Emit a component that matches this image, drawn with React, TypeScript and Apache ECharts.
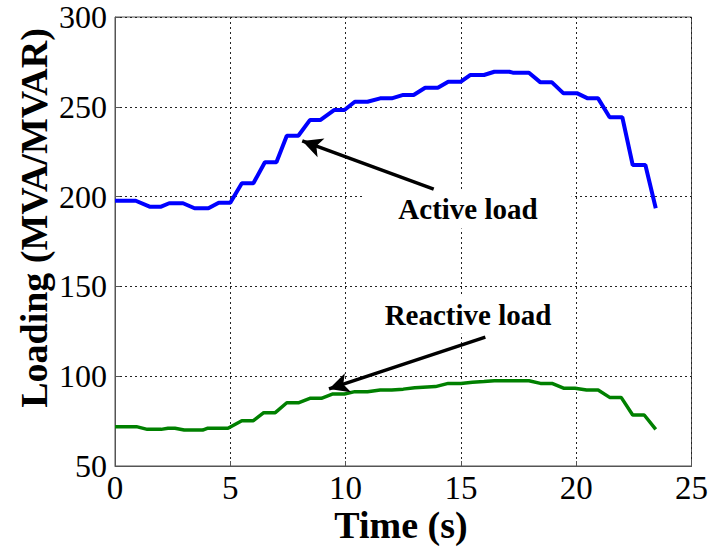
import React, { useEffect, useRef } from "react";
import * as echarts from "echarts";

const activeT = [0, 0.9, 1.5, 2.0, 2.35, 2.95, 3.45, 4.05, 4.5, 5.0, 5.5, 6.0, 6.5, 7.0, 7.45, 7.95, 8.45, 8.9, 9.5, 9.95, 10.4, 10.95, 11.5, 12.0, 12.5, 12.95, 13.45, 14.0, 14.45, 15.0, 15.4, 16.0, 16.45, 17.1, 17.25, 17.95, 18.45, 18.95, 19.45, 20.05, 20.5, 20.95, 21.45, 22.0, 22.45, 23.0, 23.45];
const activeV = [197.7, 197.7, 194.4, 194.4, 196.3, 196.3, 193.5, 193.5, 196.6, 196.6, 207.4, 207.4, 219.1, 219.1, 233.9, 233.9, 242.6, 242.6, 248.2, 248.2, 252.8, 252.8, 254.7, 254.7, 256.6, 256.6, 260.6, 260.6, 264.0, 264.0, 267.7, 267.7, 269.5, 269.5, 269.0, 269.0, 263.6, 263.6, 257.5, 257.5, 254.7, 254.7, 244.2, 244.2, 217.6, 217.6, 193.5];

const reactiveT = [0, 0.93, 1.4, 2.0, 2.3, 2.6, 3.0, 3.8, 4.0, 4.9, 5.5, 6.0, 6.45, 6.95, 7.45, 7.95, 8.45, 8.95, 9.45, 9.95, 10.4, 10.95, 11.5, 12.0, 12.5, 13.0, 13.9, 14.45, 15.0, 15.5, 16.0, 16.45, 17.95, 18.45, 18.95, 19.45, 19.95, 20.45, 20.95, 21.45, 21.95, 22.45, 22.95, 23.45];
const reactiveV = [71.9, 71.9, 70.4, 70.4, 71.0, 71.0, 70.0, 70.0, 71.0, 71.0, 75.2, 75.2, 79.7, 79.7, 85.2, 85.2, 87.7, 87.7, 90.1, 90.1, 91.4, 91.4, 92.3, 92.3, 92.8, 93.6, 94.2, 96.0, 96.0, 96.6, 97.0, 97.5, 97.5, 96.0, 96.0, 93.3, 93.3, 92.3, 92.3, 88.2, 88.2, 78.4, 78.4, 70.4];

const activeArrow = [[13.82, 204.2], [8.12, 231.0]];
const reactiveArrow = [[16.06, 121.8], [9.28, 92.9]];

const FONT = "'Liberation Serif', 'Times New Roman', serif";

export default function App() {
  const ref = useRef<HTMLDivElement>(null);
  useEffect(() => {
    if (!ref.current) return;
    const chart = echarts.init(ref.current, undefined, { renderer: "svg" });
    const pair = (ts: number[], vs: number[]) => ts.map((t, i) => [t, vs[i]]);
    const arrowLine = (a: number[][]) => ({
      silent: true,
      symbol: ["none", "arrow"],
      symbolSize: [15, 20],
      label: { show: false },
      lineStyle: { color: "#000", width: 3.5, type: "solid" },
      data: [[{ coord: a[0] }, { coord: a[1] }]],
    });
    chart.setOption({
      animation: false,
      backgroundColor: "#fff",
      grid: { left: 115, top: 17, right: 17, bottom: 82, show: true, borderColor: "#555", borderWidth: 1 },
      xAxis: {
        type: "value",
        min: 0,
        max: 25,
        interval: 5,
        axisLine: { show: true, lineStyle: { color: "#555", width: 1 } },
        axisTick: { show: true, inside: true, length: 5, lineStyle: { color: "#555" } },
        axisLabel: { color: "#000", fontFamily: FONT, fontSize: 33, margin: 5 },
        splitLine: { show: true, lineStyle: { color: "#222", type: [2, 3], width: 1 } },
      },
      yAxis: {
        type: "value",
        min: 50,
        max: 300,
        interval: 50,
        axisLine: { show: true, lineStyle: { color: "#555", width: 1 } },
        axisTick: { show: true, inside: true, length: 5, lineStyle: { color: "#555" } },
        axisLabel: { color: "#000", fontFamily: FONT, fontSize: 32, margin: 8 },
        splitLine: { show: true, lineStyle: { color: "#222", type: [2, 3], width: 1 } },
      },
      graphic: [
        {
          type: "text",
          z: 1,
          x: 468,
          y: 209,
          style: {
            text: "Active load",
            font: `bold 29px ${FONT}`,
            fill: "#000",
            align: "center",
            verticalAlign: "middle",
            backgroundColor: "#fff",
            padding: [6, 34, 4, 34],
          },
        },
        {
          type: "text",
          z: 1,
          x: 468,
          y: 315,
          style: {
            text: "Reactive load",
            font: `bold 29px ${FONT}`,
            fill: "#000",
            align: "center",
            verticalAlign: "middle",
            backgroundColor: "#fff",
            padding: [4, 14, 4, 14],
          },
        },
        {
          type: "text",
          x: 401,
          y: 525,
          style: {
            text: "Time (s)",
            font: `bold 38px ${FONT}`,
            fill: "#000",
            align: "center",
            verticalAlign: "middle",
          },
        },
        {
          type: "text",
          x: 34,
          y: 218,
          rotation: Math.PI / 2,
          style: {
            text: "Loading (MVA/MVAR)",
            font: `bold 38px ${FONT}`,
            fill: "#000",
            align: "center",
            verticalAlign: "middle",
          },
        },
      ],
      series: [
        {
          type: "line",
          data: pair(activeT, activeV),
          showSymbol: false,
          lineStyle: { color: "#0000ff", width: 4 },
          itemStyle: { color: "#0000ff" },
          z: 3,
          markLine: arrowLine(activeArrow),
        },
        {
          type: "line",
          data: pair(reactiveT, reactiveV),
          showSymbol: false,
          lineStyle: { color: "#008000", width: 3.5 },
          itemStyle: { color: "#008000" },
          z: 3,
          markLine: arrowLine(reactiveArrow),
        },
      ],
    });
    return () => chart.dispose();
  }, []);
  return <div ref={ref} style={{ position: "fixed", left: 0, top: 0, width: 711, height: 548 }} />;
}
